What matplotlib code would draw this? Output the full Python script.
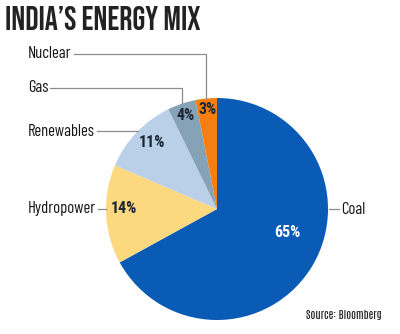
import numpy as np
import matplotlib
matplotlib.use("Agg")
import matplotlib.pyplot as plt

# data
sources = ["Coal", "Hydropower", "Renewables", "Gas", "Nuclear"]
shares = [65, 14, 11, 4, 3]
colors = ["#0a5bb6", "#fcd87f", "#b9d0e8", "#86a2b6", "#f77f12"]
pct_colors = ["white", "#1b2533", "#1b2533", "#1b2533", "#1b2533"]

TITLE_FONT = ["Bebas Neue", "DejaVu Sans"]
NARROW = ["Barlow Condensed", "Roboto Condensed", "DejaVu Sans"]
PCT_FONT = ["Roboto Condensed", "Barlow Condensed", "DejaVu Sans"]
SRC_FONT = ["Antonio", "Barlow Condensed", "DejaVu Sans"]
W, H = 400, 334
CX, CY, R = 217, 334 - 209, 111

fig = plt.figure(figsize=(W / 100, H / 100), dpi=100)
ax = fig.add_axes([0, 0, 1, 1])

wedges, _ = ax.pie(shares, colors=colors, startangle=90, counterclock=False,
                   center=(CX, CY), radius=R, frame=True,
                   wedgeprops=dict(linewidth=0))
ax.set_xlim(0, W)
ax.set_ylim(0, H)
ax.set_aspect("equal")
ax.axis("off")

# percent labels: radius fraction and angle nudge from each wedge's mid angle
pct_r = [0.67, 0.84, 0.84, 0.89, 0.90]
pct_nudge = [12, -3, -2, 0, 0]
for w, s, c, rr, dn in zip(wedges, shares, pct_colors, pct_r, pct_nudge):
    mid = np.deg2rad((w.theta1 + w.theta2) / 2 + dn)
    ax.text(CX + rr * R * np.cos(mid), CY + rr * R * np.sin(mid), f"{s}%",
            ha="center", va="center", color=c, fontsize=11.5, fontweight="bold",
            family=PCT_FONT)

line_kw = dict(color="#8c8c8c", lw=0.9)
lab_kw = dict(fontsize=12, color="#161616", family=NARROW, va="center")

# elbow leaders for the two small slices
for name, ly, tx in [("Nuclear", 334 - 54, 28), ("Gas", 334 - 88, 28)]:
    w = wedges[sources.index(name)]
    mid = np.deg2rad((w.theta1 + w.theta2) / 2)
    px, py = CX + R * np.cos(mid), CY + R * np.sin(mid)
    t = ax.text(tx, ly + 1, name, ha="left", **lab_kw)
    fig.canvas.draw()
    bb = t.get_window_extent()
    ax.plot([bb.x1 + 2, px, px], [ly, ly, py + 1], **line_kw)

# straight leaders touching the rim
for name, ly, tx, side in [("Renewables", 334 - 131, 28, "left"),
                           ("Hydropower", 334 - 209, 28, "left"),
                           ("Coal", 334 - 209, 341, "right")]:
    t = ax.text(tx, ly, name, ha="left", **lab_kw)
    fig.canvas.draw()
    bb = t.get_window_extent()
    dx = np.sqrt(R ** 2 - (ly - CY) ** 2)
    if side == "left":
        ax.plot([bb.x1 + 2, CX - dx], [ly, ly], **line_kw)
    else:
        ax.plot([CX + dx + 1, bb.x0 - 2], [ly, ly], **line_kw)

fig.text(5 / W, 1 - 18 / H, "INDIA\u2019S ENERGY MIX", fontsize=23.5,
         color="#222222", family=TITLE_FONT, va="center")
fig.text(382 / W, 1 - 315 / H, "Source: Bloomberg", fontsize=8,
         color="#222222", family=SRC_FONT, ha="right", va="center")

fig.savefig("out.png", dpi=100)
